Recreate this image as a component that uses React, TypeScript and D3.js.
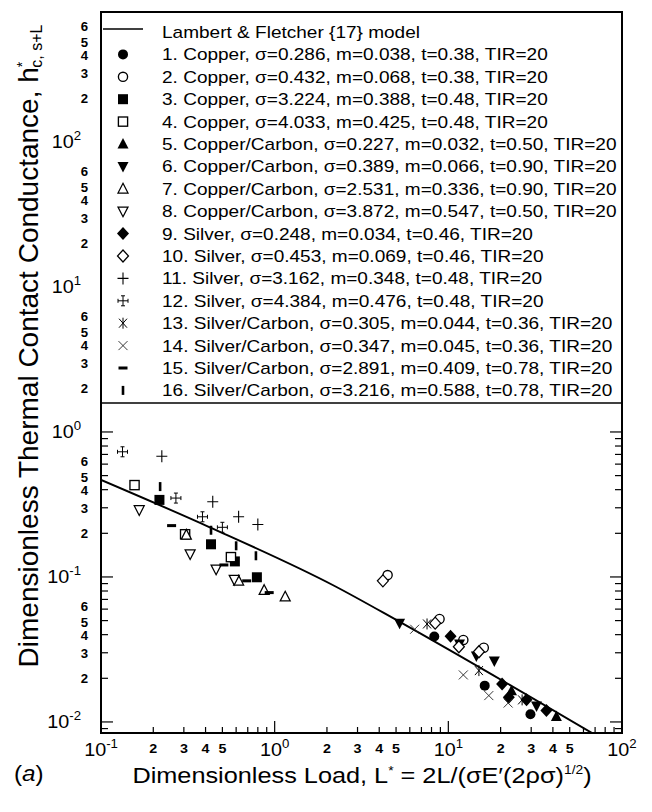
import React from 'react';
import * as d3 from 'd3';

const W = 652;
const H = 812;
const FONT = "'Liberation Sans', Arial, Helvetica, sans-serif";

// axis limits
const xDomain = [0.1, 100];
const yDomain = [0.00839, 788];

// Lambert & Fletcher model curve
const modelX = [0.1, 0.42, 2.2, 5.1, 67];
const modelY = [0.467, 0.221, 0.087, 0.05, 0.0084];

// series data [L*, h*]
const s1 = [[8.3, 0.0388], [16.2, 0.0178], [29.7, 0.0113]];
const s2 = [[4.47, 0.103], [8.9, 0.0513], [12.2, 0.0368], [16.0, 0.0325]];
const s3 = [[0.217, 0.34], [0.43, 0.168], [0.59, 0.128], [0.79, 0.0995]];
const s4 = [[0.156, 0.43], [0.305, 0.197], [0.56, 0.137]];
const s5 = [[23.1, 0.0164], [41.9, 0.0109]];
const s6 = [[5.24, 0.048], [11.6, 0.0345], [14.5, 0.0285], [18.4, 0.0263], [32.2, 0.0129]];
const s7 = [[0.31, 0.195], [0.62, 0.094], [0.87, 0.081], [1.15, 0.073]];
const s8 = [[0.166, 0.29], [0.326, 0.144], [0.46, 0.113], [0.585, 0.096]];
const s9 = [[10.3, 0.039], [20.4, 0.0183], [22.3, 0.0148], [28.2, 0.0142], [36.7, 0.012]];
const s10 = [[4.2, 0.094], [8.4, 0.048], [11.5, 0.033], [15.0, 0.0305]];
const s11 = [[0.224, 0.68], [0.44, 0.33], [0.62, 0.26], [0.8, 0.23]];
const s12 = [[0.133, 0.73], [0.27, 0.35], [0.384, 0.26], [0.5, 0.22]];
const s13 = [[7.54, 0.0474], [15.0, 0.0226], [26.6, 0.0142]];
const s14 = [[6.4, 0.0436], [12.2, 0.0211], [17.1, 0.0152], [22.1, 0.0135]];
const s15 = [[0.255, 0.226], [0.51, 0.121], [0.69, 0.094], [0.93, 0.078]];
const s16 = [[0.219, 0.42], [0.43, 0.21], [0.6, 0.164], [0.78, 0.14]];

const seriesPoints = [s1, s2, s3, s4, s5, s6, s7, s8, s9, s10, s11, s12, s13, s14, s15, s16];
const seriesSymbols = [
  'circleFilled', 'circleOpen', 'squareFilled', 'squareOpen',
  'triUpFilled', 'triDownFilled', 'triUpOpen', 'triDownOpen',
  'diamondFilled', 'diamondOpen', 'plus', 'plusCapped',
  'asterisk', 'cross', 'hbar', 'vbar',
];

const modelLabel = 'Lambert & Fletcher {17} model';
const legendLabels = [
  '1. Copper, σ=0.286, m=0.038, t=0.38, TIR=20',
  '2. Copper, σ=0.432, m=0.068, t=0.38, TIR=20',
  '3. Copper, σ=3.224, m=0.388, t=0.48, TIR=20',
  '4. Copper, σ=4.033, m=0.425, t=0.48, TIR=20',
  '5. Copper/Carbon, σ=0.227, m=0.032, t=0.50, TIR=20',
  '6. Copper/Carbon, σ=0.389, m=0.066, t=0.90, TIR=20',
  '7. Copper/Carbon, σ=2.531, m=0.336, t=0.90, TIR=20',
  '8. Copper/Carbon, σ=3.872, m=0.547, t=0.50, TIR=20',
  '9. Silver, σ=0.248, m=0.034, t=0.46, TIR=20',
  '10. Silver, σ=0.453, m=0.069, t=0.46, TIR=20',
  '11. Silver, σ=3.162, m=0.348, t=0.48, TIR=20',
  '12. Silver, σ=4.384, m=0.476, t=0.48, TIR=20',
  '13. Silver/Carbon, σ=0.305, m=0.044, t=0.36, TIR=20',
  '14. Silver/Carbon, σ=0.347, m=0.045, t=0.36, TIR=20',
  '15. Silver/Carbon, σ=2.891, m=0.409, t=0.78, TIR=20',
  '16. Silver/Carbon, σ=3.216, m=0.588, t=0.78, TIR=20',
];

const xMajorValues = [0.1, 1, 10, 100];
const xMajorExps = ['-1', '0', '1', '2'];
const xMinorDigits = [2, 3, 4, 5];
const xMinorDecades = [0.1, 1, 10];

const yMajorValues = [0.01, 0.1, 1, 10, 100];
const yMajorExps = ['-2', '-1', '0', '1', '2'];
const yMinorDigits = [2, 3, 4, 5, 6];
const yMinorDecades = [0.01, 0.1, 1, 10, 100];

const xTitleMain = 'Dimensionless Load, L';
const xTitleRest = ' = 2L/(σE\u2032(2ρσ)';
const yTitleMain = 'Dimensionless Thermal Contact Conductance, h';
const yTitleSub = 'c, s+L';

// layout
const PL = 101, PR = 622, PT = 12, PB = 733;
const LEG_BOTTOM = 403;
const ROW0 = 32, ROWH = 22.4;

const xScale = d3.scaleLog().domain(xDomain).range([PL, PR]);
const yScale = d3.scaleLog().domain(yDomain).range([PB, PT]);

function SText({ x, y, sx = 1, anchor = 'start', size, weight = 'normal', italic = false, children }: any) {
  return (
    <g transform={`translate(${x},${y}) scale(${sx},1)`}>
      <text x={0} y={0} textAnchor={anchor} fontSize={size} fontWeight={weight}
        fontStyle={italic ? 'italic' : 'normal'} fontFamily={FONT} fill="#000">{children}</text>
    </g>
  );
}

function Marker({ type, cx, cy }: any) {
  const t = `translate(${cx},${cy})`;
  switch (type) {
    case 'circleFilled': return <circle cx={cx} cy={cy} r={5} fill="#000" />;
    case 'circleOpen': return <circle cx={cx} cy={cy} r={4.6} fill="#fff" stroke="#000" strokeWidth={1.35} />;
    case 'squareFilled': return <rect x={cx - 5} y={cy - 5} width={10} height={10} fill="#000" />;
    case 'squareOpen': return <rect x={cx - 4.6} y={cy - 4.6} width={9.2} height={9.2} fill="#fff" stroke="#000" strokeWidth={1.35} />;
    case 'triUpFilled': return <path transform={t} d="M0,-6L5.5,4.5L-5.5,4.5Z" fill="#000" />;
    case 'triDownFilled': return <path transform={t} d="M0,6L5.5,-4.5L-5.5,-4.5Z" fill="#000" />;
    case 'triUpOpen': return <path transform={t} d="M0,-5.5L5,4.2L-5,4.2Z" fill="#fff" stroke="#000" strokeWidth={1.25} />;
    case 'triDownOpen': return <path transform={t} d="M0,5.5L5,-4.2L-5,-4.2Z" fill="#fff" stroke="#000" strokeWidth={1.25} />;
    case 'diamondFilled': return <path transform={t} d="M0,-6.5L6,0L0,6.5L-6,0Z" fill="#000" />;
    case 'diamondOpen': return <path transform={t} d="M0,-6L5.5,0L0,6L-5.5,0Z" fill="#fff" stroke="#000" strokeWidth={1.25} />;
    case 'plus': return <path transform={t} d="M-5.5,0H5.5M0,-6V6" stroke="#000" strokeWidth={1.1} fill="none" />;
    case 'plusCapped': return <path transform={t} d="M-5,0H5M0,-5V5M-5,-2V2M5,-2V2M-2,-5H2M-2,5H2" stroke="#000" strokeWidth={1} fill="none" />;
    case 'asterisk': return <path transform={t} d="M-4,-4.5L4,4.5M-4,4.5L4,-4.5M0,-5.5V5.5" stroke="#000" strokeWidth={1} fill="none" />;
    case 'cross': return <path transform={t} d="M-4.5,-4.5L4.5,4.5M-4.5,4.5L4.5,-4.5" stroke="#222" strokeWidth={0.9} fill="none" />;
    case 'hbar': return <rect x={cx - 4.5} y={cy - 1.5} width={9} height={3} fill="#000" />;
    case 'vbar': return <rect x={cx - 1.3} y={cy - 4.5} width={2.6} height={9} fill="#000" />;
    default: return null;
  }
}

export default function App() {
  const modelPts = modelX.map((x, i) => [x, modelY[i]]);
  const line = d3.line<number[]>()
    .x(d => xScale(d[0]))
    .y(d => yScale(d[1]))
    .curve(d3.curveMonotoneX);

  const xTicks = xScale.ticks();
  const yTicks = yScale.ticks().filter(v => yScale(v) > LEG_BOTTOM + 2 && yScale(v) <= PB);
  const isMajor = (v: number) => Math.abs(Math.log10(v) - Math.round(Math.log10(v))) < 1e-6;

  const sx = 1.12;
  const minorNudge = (m: number) => (m === 6 ? -3 : m === 5 ? 1.5 : 0);

  return (
    <svg width={W} height={H} style={{ position: 'absolute', left: 0, top: 0, display: 'block', background: '#fff' }}>
      <rect x={0} y={0} width={W} height={H} fill="#fff" />
      <defs>
        <clipPath id="plotClip">
          <rect x={PL} y={LEG_BOTTOM} width={PR - PL} height={PB - LEG_BOTTOM} />
        </clipPath>
      </defs>

      {/* ticks */}
      {xTicks.map((v, i) => {
        const x = xScale(v);
        const len = isMajor(v) ? 12 : 6;
        return <line key={'xt' + i} x1={x} x2={x} y1={PB} y2={PB - len} stroke="#000" strokeWidth={1.2} />;
      })}
      {yTicks.map((v, i) => {
        const y = yScale(v);
        const len = isMajor(v) ? 12 : 7;
        return (
          <g key={'yt' + i}>
            <line x1={PL} x2={PL + len} y1={y} y2={y} stroke="#000" strokeWidth={1.2} />
            <line x1={PR} x2={PR - len} y1={y} y2={y} stroke="#000" strokeWidth={1.2} />
          </g>
        );
      })}

      {/* model line and data */}
      <g clipPath="url(#plotClip)">
        <path d={line(modelPts) || ''} fill="none" stroke="#000" strokeWidth={1.9} />
        {seriesPoints.map((pts, si) => pts.map((p, j) => (
          <Marker key={`m${si}-${j}`} type={seriesSymbols[si]} cx={xScale(p[0])} cy={yScale(p[1])} />
        )))}
      </g>

      {/* frame */}
      <rect x={PL} y={PT} width={PR - PL} height={PB - PT} fill="none" stroke="#000" strokeWidth={2} />
      <line x1={PL} x2={PR} y1={LEG_BOTTOM} y2={LEG_BOTTOM} stroke="#000" strokeWidth={1.6} />

      {/* legend */}
      <line x1={103} x2={143} y1={ROW0 - 3} y2={ROW0 - 3} stroke="#000" strokeWidth={1.5} />
      <SText x={162} y={ROW0 + 6} sx={sx} size={17}>{modelLabel}</SText>
      {legendLabels.map((lab, i) => {
        const cy = ROW0 + ROWH * (i + 1);
        return (
          <g key={'leg' + i}>
            <Marker type={seriesSymbols[i]} cx={123} cy={cy} />
            <SText x={162} y={cy + 6} sx={sx} size={17}>{lab}</SText>
          </g>
        );
      })}

      {/* x tick labels */}
      {xMajorValues.map((v, i) => (
        <SText key={'xl' + i} x={xScale(v)} y={756} sx={1.1} size={18} anchor="middle">
          <tspan>10</tspan><tspan dy={-8} fontSize={12}>{xMajorExps[i]}</tspan>
        </SText>
      ))}
      {xMinorDecades.map(d => xMinorDigits.map(m => (
        <SText key={`xm${d}-${m}`} x={xScale(d * m)} y={753} sx={1.1} size={13} weight="bold" anchor="middle">{m}</SText>
      )))}

      {/* y tick labels */}
      {yMajorValues.map((v, i) => (
        <SText key={'yl' + i} x={81} y={yScale(v) + 6} sx={1.1} size={18} anchor="end">
          <tspan>10</tspan><tspan dy={-8} fontSize={12}>{yMajorExps[i]}</tspan>
        </SText>
      ))}
      {yMinorDecades.map(d => yMinorDigits.map(m => (
        <SText key={`ym${d}-${m}`} x={88} y={yScale(d * m) + 5 + minorNudge(m)} sx={1.1} size={12} weight="bold" anchor="end">{m}</SText>
      )))}

      {/* axis titles */}
      <SText x={362} y={783} sx={1.15} size={22} anchor="middle">
        <tspan>{xTitleMain}</tspan>
        <tspan dy={-8} fontSize={12}>*</tspan>
        <tspan dy={8}>{xTitleRest}</tspan>
        <tspan dy={-9} fontSize={12}>1/2</tspan>
        <tspan dy={9}>)</tspan>
      </SText>
      <g transform={`translate(38,346) rotate(-90)`}>
        <text x={0} y={0} textAnchor="middle" fontSize={28} fontFamily={FONT}>
          <tspan>{yTitleMain}</tspan>
          <tspan dy={-11} fontSize={14}>*</tspan>
          <tspan dx={-6} dy={15} fontSize={16}>{yTitleSub}</tspan>
        </text>
      </g>
      <SText x={14} y={781} sx={1.1} size={22}>
        <tspan>(</tspan><tspan fontStyle="italic">a</tspan><tspan>)</tspan>
      </SText>
    </svg>
  );
}
